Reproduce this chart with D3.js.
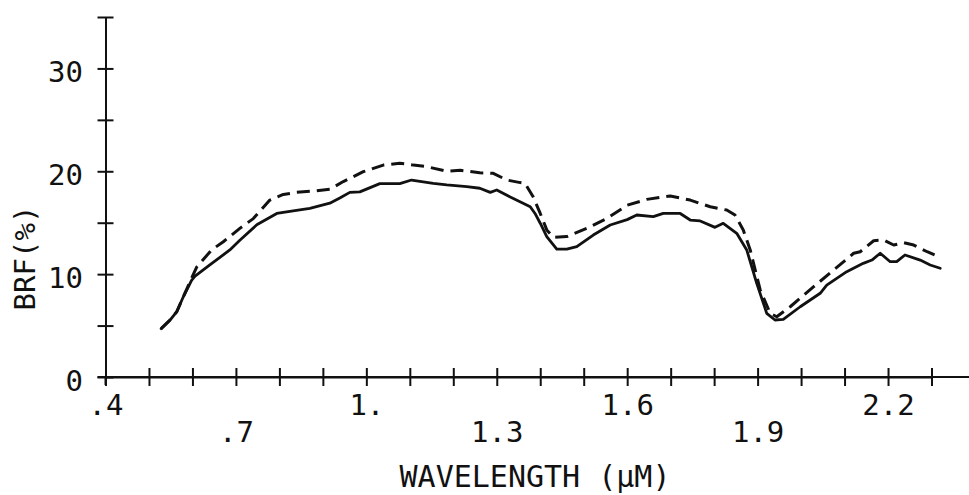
<!DOCTYPE html>
<html>
<head>
<meta charset="utf-8">
<script src="https://cdn.jsdelivr.net/npm/d3@7"></script>
<style>
  html, body { margin: 0; padding: 0; background: #fff; }
  svg { display: block; }
  text { font-family: "DejaVu Sans Mono", monospace; fill: #111; }
</style>
</head>
<body>
<svg id="chart" width="969" height="495"></svg>
<script>
// ---- data ----
const wlSolid = [0.528,0.548,0.564,0.579,0.598,0.606,0.640,0.686,0.709,0.748,0.794,0.824,0.870,0.916,0.939,0.962,0.985,1.031,1.077,1.104,1.154,1.185,1.231,1.261,1.285,1.300,1.331,1.377,1.388,1.400,1.415,1.438,1.461,1.484,1.522,1.561,1.600,1.622,1.660,1.683,1.722,1.745,1.768,1.802,1.821,1.852,1.875,1.898,1.921,1.940,1.959,1.998,2.044,2.059,2.105,2.143,2.163,2.182,2.205,2.220,2.239,2.274,2.297,2.320];
const brfSolid = [4.7,5.5,6.35,7.8,9.4,9.8,10.9,12.35,13.3,14.8,15.9,16.1,16.4,16.9,17.4,17.95,18.0,18.8,18.8,19.15,18.83,18.67,18.5,18.35,17.95,18.18,17.5,16.55,15.9,14.95,13.65,12.44,12.44,12.67,13.8,14.78,15.3,15.75,15.6,15.9,15.9,15.26,15.17,14.55,14.94,13.97,12.35,9.1,6.19,5.54,5.6,6.83,8.14,8.94,10.24,11.05,11.37,12.03,11.21,11.21,11.86,11.37,10.89,10.57];

const wlDashed = [0.528,0.548,0.564,0.579,0.598,0.610,0.644,0.671,0.709,0.740,0.778,0.809,0.840,0.878,0.916,0.947,0.993,1.039,1.077,1.108,1.139,1.185,1.216,1.261,1.292,1.323,1.354,1.365,1.384,1.400,1.415,1.430,1.461,1.507,1.553,1.600,1.645,1.699,1.745,1.791,1.829,1.848,1.867,1.883,1.906,1.929,1.944,1.975,2.029,2.075,2.121,2.136,2.167,2.190,2.213,2.236,2.259,2.290,2.320];
const brfDashed = [4.7,5.54,6.35,7.8,9.6,10.7,12.35,13.15,14.45,15.4,17.2,17.75,17.95,18.08,18.25,19.0,19.96,20.6,20.78,20.6,20.45,20.0,20.1,19.86,19.8,19.15,18.9,18.83,17.5,15.9,14.3,13.58,13.65,14.45,15.4,16.7,17.27,17.6,17.2,16.55,16.23,15.75,14.3,12.35,8.46,6.19,5.86,6.83,8.78,10.4,12.03,12.18,13.25,13.32,12.83,13.06,12.83,12.18,11.64];

const xTickValues = [0.4,0.5,0.6,0.7,0.8,0.9,1.0,1.1,1.2,1.3,1.4,1.5,1.6,1.7,1.8,1.9,2.0,2.1,2.2,2.3];
const xLabelValues = [0.4,0.7,1.0,1.3,1.6,1.9,2.2];
const xLabelTexts = [".4",".7","1.","1.3","1.6","1.9","2.2"];
const yTickValues = [0,5,10,15,20,25,30,35];
const yLabelValues = [0,10,20,30];
const yLabelTexts = ["0","10","20","30"];
const xTitle = "WAVELENGTH (μM)";
const yTitle = "BRF(%)";

// ---- chart ----
const svg = d3.select("#chart");
const ink = "#111";

const x = d3.scaleLinear().domain([0.4, 2.3]).range([105.5, 931.5]);
const y = d3.scaleLinear().domain([0, 35]).range([377, 17]);

// y axis
const gy = svg.append("g").attr("transform", `translate(${x(0.4)},0)`)
  .call(d3.axisLeft(y).tickValues(yTickValues).tickSize(8).tickSizeOuter(0).tickPadding(14.5)
    .tickFormat(d => { const i = yLabelValues.indexOf(d); return i >= 0 ? yLabelTexts[i] : ""; }));
gy.select(".domain").attr("stroke", ink).attr("stroke-width", 2);
gy.selectAll(".tick line").attr("x1", 8).attr("stroke", ink).attr("stroke-width", 2);
gy.selectAll(".tick text").attr("font-size", 29).attr("font-family", "DejaVu Sans Mono").attr("fill", ink).attr("dy", "0.45em");
gy.append("line").attr("x1", 0).attr("x2", 0).attr("y1", y(0)).attr("y2", y(0) + 8)
  .attr("stroke", ink).attr("stroke-width", 2);

// x axis
const gx = svg.append("g").attr("transform", `translate(0,${y(0)})`)
  .call(d3.axisBottom(x).tickValues(xTickValues).tickSize(9).tickSizeOuter(0)
    .tickFormat(d => { const i = xLabelValues.findIndex(v => Math.abs(v - d) < 1e-6); return i >= 0 ? xLabelTexts[i] : ""; }));
gx.select(".domain").attr("stroke", ink).attr("stroke-width", 2);
gx.selectAll(".tick line").attr("y1", -9).attr("stroke", ink).attr("stroke-width", 2);
gx.selectAll(".tick text")
  .attr("font-size", 29).attr("font-family", "DejaVu Sans Mono").attr("fill", ink)
  .attr("dy", 0)
  .attr("y", d => { const i = xLabelValues.findIndex(v => Math.abs(v - d) < 1e-6); return i % 2 === 0 ? 38 : 65; });
gx.append("line").attr("x1", x(0.4) - 8).attr("x2", 969).attr("y1", 0).attr("y2", 0)
  .attr("stroke", ink).attr("stroke-width", 2);

// titles
svg.append("text").attr("x", 535).attr("y", 487).attr("text-anchor", "middle")
  .attr("font-size", 30).text(xTitle);
svg.append("text").attr("transform", "translate(35,258) rotate(-90)").attr("text-anchor", "middle")
  .attr("font-size", 29).text(yTitle);

// curves
const line = d3.line().x(d => x(d[0])).y(d => y(d[1]));
const solidData = wlSolid.map((w, i) => [w, brfSolid[i]]);
const dashedData = wlDashed.map((w, i) => [w, brfDashed[i]]);

svg.append("path").datum(dashedData).attr("d", line)
  .attr("fill", "none").attr("stroke", ink).attr("stroke-width", 3)
  .attr("stroke-dasharray", "13,7").attr("stroke-linejoin", "round");
svg.append("path").datum(solidData).attr("d", line)
  .attr("fill", "none").attr("stroke", ink).attr("stroke-width", 2.8)
  .attr("stroke-linejoin", "round").attr("stroke-linecap", "round");
</script>
</body>
</html>
